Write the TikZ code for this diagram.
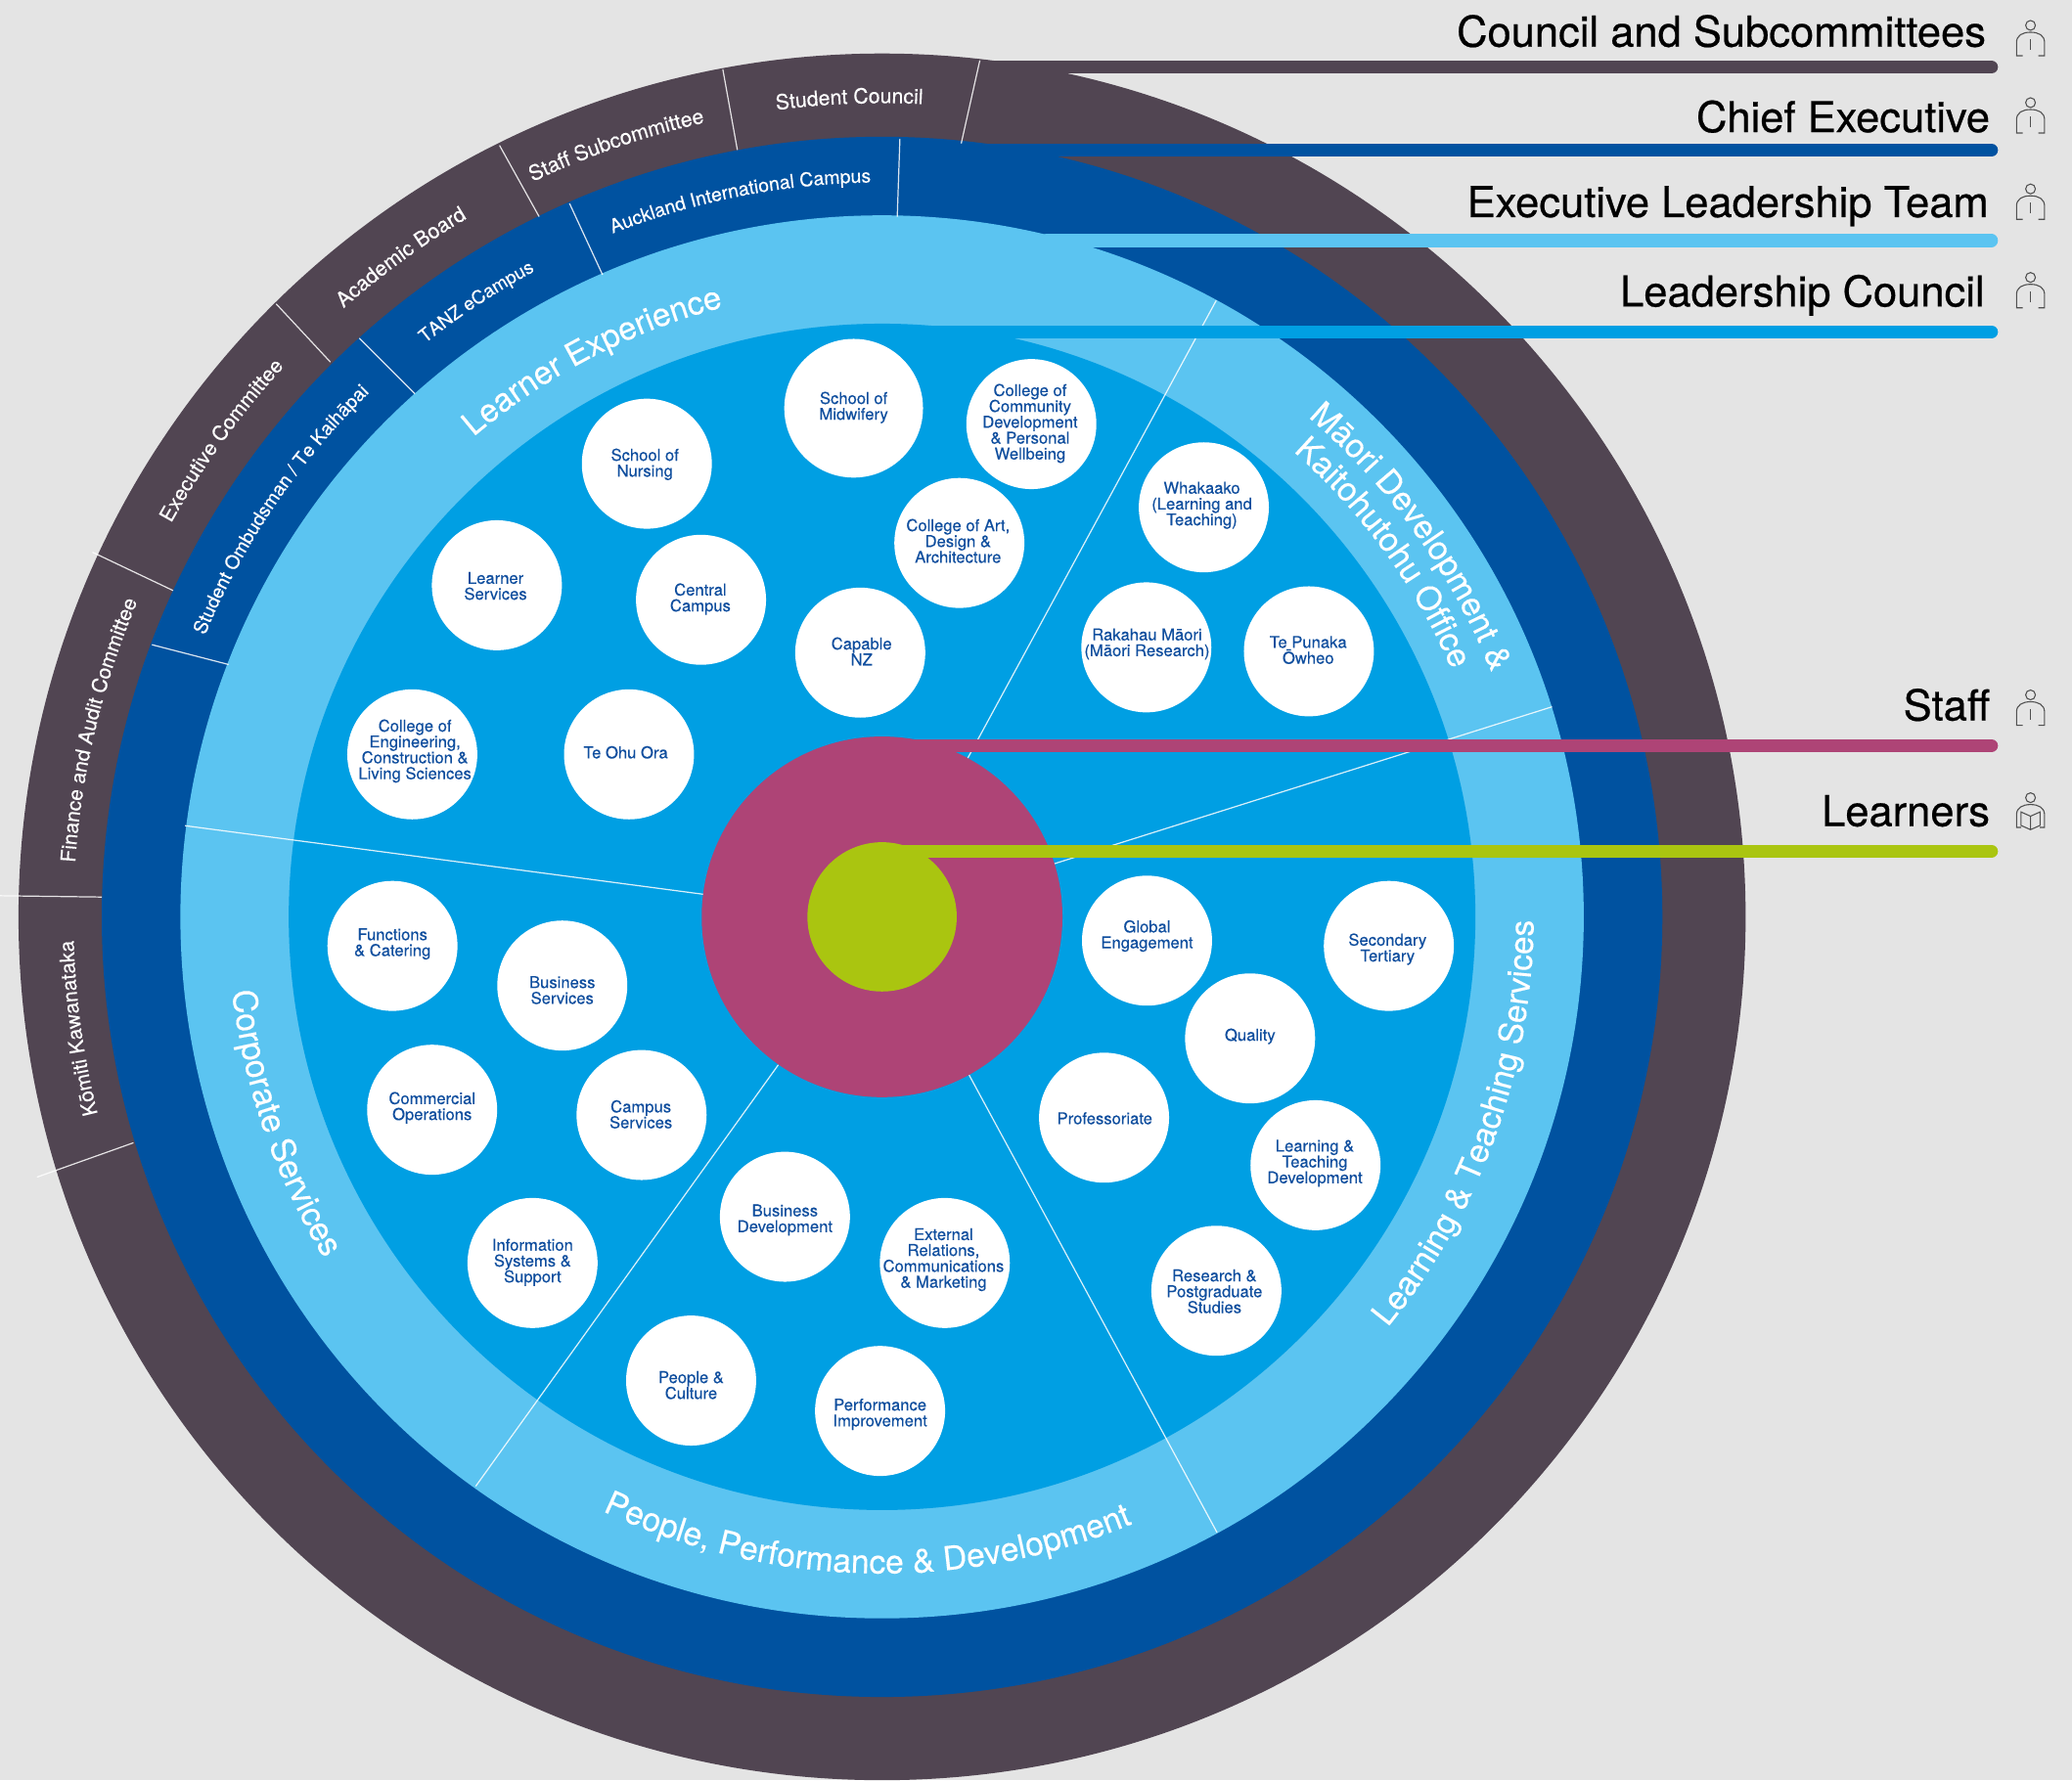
\documentclass[tikz,border=0pt]{standalone}
\usepackage{fontspec}
\setmainfont{TeX Gyre Heros}
\newfontfamily\hvm[FakeBold=0.25]{TeX Gyre Heros}
\newfontfamily\hvl[FakeBold=0.5]{TeX Gyre Heros}
\usetikzlibrary{decorations.text}
\definecolor{bgc}{HTML}{E4E4E4}
\definecolor{darkc}{HTML}{514552}
\definecolor{bluec}{HTML}{0052A0}
\definecolor{lightc}{HTML}{5BC4F1}
\definecolor{medc}{HTML}{009FE3}
\definecolor{magc}{HTML}{AE4476}
\definecolor{greenc}{HTML}{AAC510}
\definecolor{textc}{HTML}{0F4E9E}
\definecolor{iconc}{HTML}{505050}
\newcommand\arccw[5]{\path[shift={(667.5,694)},x=1pt,y=1pt,decorate,decoration={text along path,text align={center},text={|\hvm\fontsize{#1}{#1}\selectfont\color{white}|#5}}] (#3+#4:#2) arc[start angle=#3+#4,end angle=#3-#4,radius=#2];}
\newcommand\arcccw[5]{\path[shift={(667.5,694)},x=1pt,y=1pt,decorate,decoration={text along path,text align={center},text={|\hvm\fontsize{#1}{#1}\selectfont\color{white}|#5}}] (#3-#4:#2) arc[start angle=#3-#4,end angle=#3+#4,radius=#2];}
\tikzset{
  unit/.style={circle,fill=white,inner sep=0pt,minimum size=98.4pt},
  unittext/.style={inner sep=0pt,align=center,text=textc,font=\hvm\fontsize{12.3}{12}\selectfont},
  legend/.style={anchor=base east,inner sep=0pt,text=black,font=\hvl\fontsize{32.2}{32}\selectfont},
  bar/.style={line width=9.9pt,line cap=round},
  sep/.style={draw=white,draw opacity=0.85,line width=0.9pt},
  person/.pic={
    \draw[iconc,line width=0.8pt] (0,0) circle[radius=3.7];
    \draw[iconc,line width=0.8pt] (-6,23) -- (-10.6,23) -- (-10.6,13) .. controls (-10.6,7.5) and (-6,5.2) .. (0,5.2) .. controls (6,5.2) and (10.6,7.5) .. (10.6,13) -- (10.6,23) -- (6,23);
    \draw[iconc,line width=0.8pt] (0,10.6) -- (0,18.7);
  },
  reader/.pic={
    \draw[iconc,line width=0.8pt] (0,0) circle[radius=3.7];
    \draw[iconc,line width=0.8pt] (-7,22.5) -- (-10.6,22.5) -- (-10.6,13) .. controls (-10.6,7.5) and (-6,5.2) .. (0,5.2) .. controls (6,5.2) and (10.6,7.5) .. (10.6,13) -- (10.6,22.5) -- (7,22.5);
    \draw[iconc,line width=0.8pt] (-7.2,10.8) -- (0,14) -- (7.2,10.8) -- (7.2,21) -- (0,24.2) -- (-7.2,21) -- cycle (0,14) -- (0,24.2);
  }
}
% name, circle centre, text centre, text
\newcommand\unitnode[7][98.4pt]{%
  \node[unit,minimum size=#1] (#2) at (#3,#4) {};
  \node[unittext] (#2text) at (#5,#6+0.5) {#7};}
\begin{document}
\begin{tikzpicture}[x=1pt,y=-1pt]
\useasboundingbox (0,0) rectangle (1568,1347.4);
\clip (0,0) rectangle (1568,1347.4);
\fill[bgc] (0,0) rectangle (1568,1347.4);
\coordinate (ctr) at (667.5,694);
% rings
\fill[darkc] (ctr) circle[radius=653.5];
\fill[bluec] (ctr) circle[radius=590.5];
\fill[lightc] (ctr) circle[radius=531];
\fill[medc] (ctr) circle[radius=449];
% sector lines
\draw[sep] (920.4,227.4) -- (732,574.5);
\draw[sep] (1174.5,535) -- (797.8,653.8);
\draw[sep] (921,1160) -- (733,813);
\draw[sep] (360,1125) -- (589,806);
\draw[sep] (140,625) -- (533,677);
\fill[magc] (ctr) circle[radius=136.5];
\fill[greenc] (ctr) circle[radius=56.5];
% legend bars
\coordinate (councilA) at (745,50.85);   \coordinate (councilB) at (1507,50.85);
\coordinate (chiefA) at (745,113.6);     \coordinate (chiefB) at (1507,113.6);
\coordinate (execA) at (792,182);        \coordinate (execB) at (1507,182);
\coordinate (leadA) at (672,251.1);      \coordinate (leadB) at (1507,251.1);
\coordinate (staffA) at (693,564.4);     \coordinate (staffB) at (1507,564.4);
\coordinate (learnA) at (684,644.3);     \coordinate (learnB) at (1507,644.3);
\draw[bar,darkc] (councilA) -- (councilB);
\draw[bar,bluec] (chiefA) -- (chiefB);
\draw[bar,lightc] (execA) -- (execB);
\draw[bar,medc] (leadA) -- (leadB);
\draw[bar,magc] (staffA) -- (staffB);
\draw[bar,greenc] (learnA) -- (learnB);
% ring separators
\draw[sep] (741.5,45.7) -- (727.4,108.6);
\draw[sep] (547,52.5) -- (558,113.5);
\draw[sep] (378,110) -- (408,164);
\draw[sep] (209,230) -- (250,274);
\draw[sep] (70,418) -- (131,447);
\draw[sep] (0,678) -- (77,679);
\draw[sep] (28,891) -- (101,865);
\draw[sep] (681,105) -- (679,164);
\draw[sep] (431,154) -- (456,208);
\draw[sep] (272,256) -- (314,298);
\draw[sep] (115,488) -- (173,503);
% outer ring labels
\arccw{15.7}{616}{92.3}{25}{Student Council}
\arccw{15.8}{616}{109}{25}{Staff Subcommittee}
\arccw{15.8}{615}{126.1}{25}{Academic Board}
\arccw{15.5}{615}{144.2}{25}{Executive Committee}
\arccw{15.5}{612}{166.6}{25}{Finance and Audit Committee}
\arccw{15.5}{612}{187.9}{25}{Kōmiti Kawanataka}
% dark blue ring labels
\arccw{14.4}{556}{101.2}{30}{Auckland International Campus}
\arccw{13.9}{555}{123.4}{25}{TANZ eCampus}
\arccw{14.3}{555}{145.9}{30}{Student Ombudsman / Te Kaihāpai}
% light ring labels
\arccw{24.6}{477}{117.5}{30}{Learner Experience}
\arccw{25}{497}{35.7}{30}{Māori Development {\&}}
\arccw{25}{470}{36}{30}{Kaitohutohu Office}
\arcccw{25.2}{495}{199}{30}{Corporate Services}
\arcccw{25}{497}{268.6}{40}{People, Performance {\&} Development}
\arcccw{25}{493}{-19.7}{35}{Learning {\&} Teaching Services}
% units
\unitnode[105pt]{midwifery}{646}{309}{646}{308}{School of\\Midwifery}
\unitnode{community}{780.5}{321}{779.5}{320}{College of\\Community\\Development\\\& Personal\\Wellbeing}
\unitnode{nursing}{489.5}{351}{488}{351}{School of\\Nursing}
\unitnode{art}{726}{411}{725}{409}{College of Art,\\Design \&\\Architecture}
\unitnode{learnersvc}{376}{443}{375}{443}{Learner\\Services}
\unitnode{central}{530.5}{454}{530}{453}{Central\\Campus}
\unitnode{capable}{651}{494}{652}{492.5}{Capable\\NZ}
\unitnode{engineering}{312}{571}{314}{568}{College of\\Engineering,\\Construction \&\\Living Sciences}
\unitnode{ohu}{476}{571}{473.5}{569}{Te Ohu Ora}
\unitnode{whakaako}{911}{384}{909.5}{382}{Whakaako\\(Learning and\\Teaching)}
\unitnode{rakahau}{867.5}{490}{868}{487}{Rakahau Māori\\(Māori Research)}
\unitnode{punaka}{990.5}{493}{990}{491.5}{Te Punaka\\Ōwheo}
\unitnode{functions}{297}{716}{297}{714}{Functions\\\& Catering}
\unitnode{business}{425.5}{746}{425.5}{749}{Business\\Services}
\unitnode{commercial}{327}{840}{327}{838}{Commercial\\Operations}
\unitnode{campus}{485.5}{844}{485}{843}{Campus\\Services}
\unitnode{infosys}{403}{956}{403}{955}{Information\\Systems \&\\Support}
\unitnode{busdev}{594}{921}{594}{923}{Business\\Development}
\unitnode{external}{715}{956}{714}{953}{External\\Relations,\\Communications\\\& Marketing}
\unitnode{people}{523}{1045}{523}{1048}{People \&\\Culture}
\unitnode{performance}{666}{1068}{666}{1070}{Performance\\Improvement}
\unitnode{global}{868}{712}{868}{708}{Global\\Engagement}
\unitnode{secondary}{1051}{716}{1050}{718}{Secondary\\Tertiary}
\unitnode{quality}{946}{786}{946}{784}{Quality}
\unitnode{prof}{835.5}{846}{836}{846}{Professoriate}
\unitnode{ltd}{995.5}{882}{995}{880}{Learning \&\\Teaching\\Development}
\unitnode{research}{920.5}{977}{919}{977}{Research \&\\Postgraduate\\Studies}
% legend
\node[legend] (lcouncil) at (1503,35.3) {Council and Subcommittees};
\node[legend] (lchief) at (1506,100) {Chief Executive};
\node[legend] (lexec) at (1505,164.3) {Executive Leadership Team};
\node[legend] (llead) at (1502,232) {Leadership Council};
\node[legend] (lstaff) at (1506,545.3) {Staff};
\node[legend] (llearn) at (1506,625.3) {Learners};
\pic at (1536.6,19.2) {person};
\pic at (1536.6,77.7) {person};
\pic at (1536.6,143) {person};
\pic at (1536.6,210) {person};
\pic at (1536.6,526) {person};
\pic at (1536.6,603.8) {reader};
\end{tikzpicture}
\end{document}
